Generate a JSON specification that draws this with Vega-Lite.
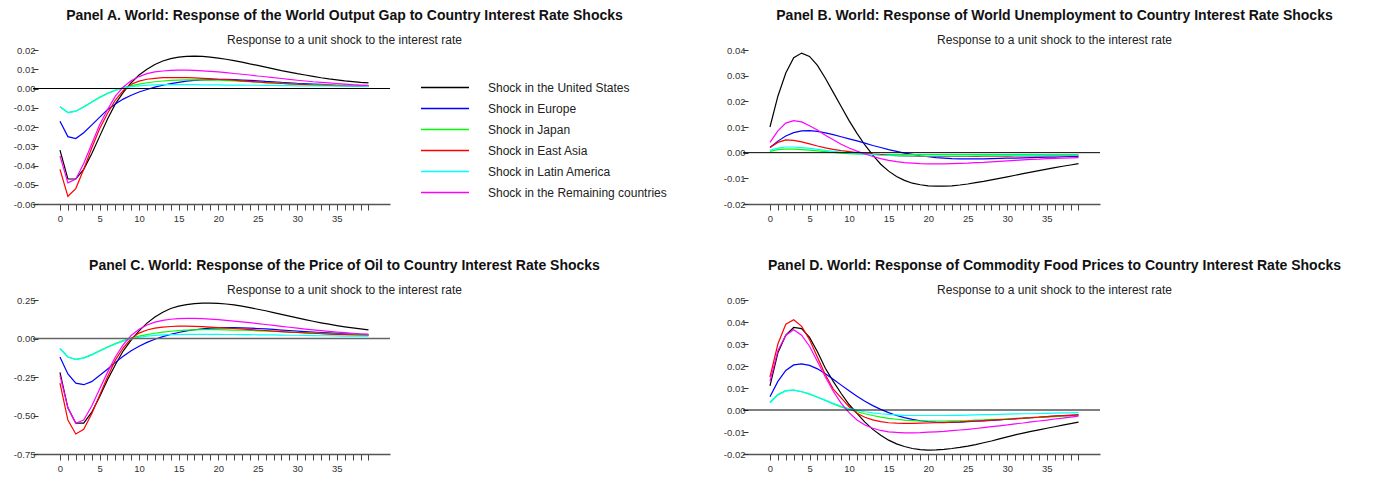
{
"$schema": "https://vega.github.io/schema/vega-lite/v6.json",
"padding": {"left": 13, "top": 9, "right": 5, "bottom": 5},
"background": "white",
"config": {
  "view": {"stroke": null},
  "font": "Liberation Sans",
  "title": {"font": "Liberation Sans", "fontSize": 14, "fontWeight": "bold", "color": "#111", "anchor": "middle", "dx": 133, "offset": -1, "subtitleFont": "Liberation Sans", "subtitleFontSize": 12, "subtitleColor": "#222", "subtitlePadding": 12},
  "axisX": {"domainColor": "#555", "domainWidth": 1.5, "tickColor": "#444", "tickSize": 6, "labelFontSize": 9.5, "labelColor": "#333", "labelFont": "Liberation Sans", "grid": false, "title": null, "labelPadding": 3.5, "labelOverlap": false,
    "labelExpr": "datum.value % 5 === 0 ? datum.label : ''"},
  "axisY": {"domain": false, "grid": false, "tickSize": -5, "tickColor": "#333", "labelFontSize": 9.5, "labelColor": "#333", "labelFont": "Liberation Sans", "labelPadding": 3, "offset": 0, "title": null, "labelOverlap": false, "labelExpr": "replace(datum.label, '\u2212', '-')"},
  "legend": {"orient": "none", "legendX": 387, "legendY": 27, "symbolType": "stroke", "symbolSize": 2304, "symbolStrokeWidth": 1.5, "clipHeight": 21, "rowPadding": 0, "labelFontSize": 12, "labelColor": "#222", "labelFont": "Liberation Sans", "labelOffset": 18, "labelLimit": 300}
},
"datasets": {
  "names": [
    {"key": "US", "label": "Shock in the United States"},
    {"key": "EU", "label": "Shock in Europe"},
    {"key": "JP", "label": "Shock in Japan"},
    {"key": "EA", "label": "Shock in East Asia"},
    {"key": "LA", "label": "Shock in Latin America"},
    {"key": "RC", "label": "Shock in the Remaining countries"}
  ],
  "A": [
    {"t":0,"US":-0.032,"EU":-0.017,"JP":-0.0095,"EA":-0.042,"LA":-0.0095,"RC":-0.035},
    {"t":1,"US":-0.047,"EU":-0.025,"JP":-0.0125,"EA":-0.056,"LA":-0.0125,"RC":-0.049},
    {"t":2,"US":-0.047,"EU":-0.026,"JP":-0.0118,"EA":-0.052,"LA":-0.0118,"RC":-0.047},
    {"t":3,"US":-0.042,"EU":-0.023,"JP":-0.0095,"EA":-0.042,"LA":-0.0097,"RC":-0.039},
    {"t":4,"US":-0.034,"EU":-0.019,"JP":-0.007,"EA":-0.031,"LA":-0.0072,"RC":-0.029},
    {"t":5,"US":-0.025,"EU":-0.015,"JP":-0.0045,"EA":-0.021,"LA":-0.0048,"RC":-0.019},
    {"t":6,"US":-0.016,"EU":-0.011,"JP":-0.0025,"EA":-0.013,"LA":-0.0027,"RC":-0.011},
    {"t":7,"US":-0.008,"EU":-0.008,"JP":-0.0008,"EA":-0.006,"LA":-0.001,"RC":-0.004},
    {"t":8,"US":-0.002,"EU":-0.0055,"JP":0.0005,"EA":-0.001,"LA":0.0003,"RC":0.0008},
    {"t":9,"US":0.003,"EU":-0.0035,"JP":0.0015,"EA":0.0022,"LA":0.001,"RC":0.004},
    {"t":10,"US":0.007,"EU":-0.0018,"JP":0.0023,"EA":0.0038,"LA":0.0014,"RC":0.0062},
    {"t":11,"US":0.010,"EU":-0.0005,"JP":0.003,"EA":0.0048,"LA":0.0017,"RC":0.0077},
    {"t":12,"US":0.0125,"EU":0.0007,"JP":0.0035,"EA":0.0053,"LA":0.0019,"RC":0.0086},
    {"t":13,"US":0.0143,"EU":0.0017,"JP":0.0039,"EA":0.0056,"LA":0.002,"RC":0.0091},
    {"t":14,"US":0.0155,"EU":0.0025,"JP":0.0042,"EA":0.0057,"LA":0.002,"RC":0.0094},
    {"t":15,"US":0.0163,"EU":0.0032,"JP":0.0044,"EA":0.0057,"LA":0.002,"RC":0.0095},
    {"t":16,"US":0.0167,"EU":0.0038,"JP":0.0045,"EA":0.0056,"LA":0.002,"RC":0.0095},
    {"t":17,"US":0.0168,"EU":0.0042,"JP":0.0045,"EA":0.0055,"LA":0.002,"RC":0.0094},
    {"t":18,"US":0.0167,"EU":0.0045,"JP":0.0045,"EA":0.0053,"LA":0.0019,"RC":0.0092},
    {"t":19,"US":0.0163,"EU":0.0046,"JP":0.0044,"EA":0.0051,"LA":0.0019,"RC":0.0089},
    {"t":20,"US":0.0158,"EU":0.0047,"JP":0.0043,"EA":0.0048,"LA":0.0019,"RC":0.0086},
    {"t":21,"US":0.0152,"EU":0.0047,"JP":0.0041,"EA":0.0046,"LA":0.0018,"RC":0.0082},
    {"t":22,"US":0.0145,"EU":0.0046,"JP":0.0039,"EA":0.0043,"LA":0.0018,"RC":0.0078},
    {"t":23,"US":0.0137,"EU":0.0044,"JP":0.0037,"EA":0.004,"LA":0.0018,"RC":0.0074},
    {"t":24,"US":0.0128,"EU":0.0042,"JP":0.0035,"EA":0.0037,"LA":0.0017,"RC":0.007},
    {"t":25,"US":0.012,"EU":0.004,"JP":0.0033,"EA":0.0034,"LA":0.0017,"RC":0.0065},
    {"t":26,"US":0.0111,"EU":0.0037,"JP":0.0031,"EA":0.0031,"LA":0.0016,"RC":0.0061},
    {"t":27,"US":0.0102,"EU":0.0035,"JP":0.0029,"EA":0.0029,"LA":0.0016,"RC":0.0056},
    {"t":28,"US":0.0093,"EU":0.0032,"JP":0.0027,"EA":0.0026,"LA":0.0015,"RC":0.0052},
    {"t":29,"US":0.0085,"EU":0.003,"JP":0.0025,"EA":0.0024,"LA":0.0015,"RC":0.0047},
    {"t":30,"US":0.0077,"EU":0.0027,"JP":0.0023,"EA":0.0022,"LA":0.0014,"RC":0.0043},
    {"t":31,"US":0.007,"EU":0.0025,"JP":0.0022,"EA":0.002,"LA":0.0014,"RC":0.0039},
    {"t":32,"US":0.0063,"EU":0.0023,"JP":0.002,"EA":0.0018,"LA":0.0014,"RC":0.0035},
    {"t":33,"US":0.0056,"EU":0.0021,"JP":0.0019,"EA":0.0017,"LA":0.0013,"RC":0.0032},
    {"t":34,"US":0.005,"EU":0.0019,"JP":0.0018,"EA":0.0016,"LA":0.0013,"RC":0.0029},
    {"t":35,"US":0.0045,"EU":0.0017,"JP":0.0017,"EA":0.0015,"LA":0.0013,"RC":0.0026},
    {"t":36,"US":0.004,"EU":0.0016,"JP":0.0016,"EA":0.0014,"LA":0.0012,"RC":0.0023},
    {"t":37,"US":0.0036,"EU":0.0014,"JP":0.0015,"EA":0.0013,"LA":0.0012,"RC":0.002},
    {"t":38,"US":0.0032,"EU":0.0013,"JP":0.0015,"EA":0.0012,"LA":0.0012,"RC":0.0018},
    {"t":39,"US":0.0029,"EU":0.0012,"JP":0.0014,"EA":0.0012,"LA":0.0011,"RC":0.0016}
  ],
  "B": [
    {"t":0,"US":0.010,"EU":0.002,"JP":0.0005,"EA":0.002,"LA":0.001,"RC":0.004},
    {"t":1,"US":0.022,"EU":0.0045,"JP":0.0012,"EA":0.004,"LA":0.0018,"RC":0.0085},
    {"t":2,"US":0.031,"EU":0.0065,"JP":0.0014,"EA":0.005,"LA":0.0022,"RC":0.0115},
    {"t":3,"US":0.037,"EU":0.0078,"JP":0.0014,"EA":0.0048,"LA":0.0022,"RC":0.0125},
    {"t":4,"US":0.0388,"EU":0.0085,"JP":0.0012,"EA":0.0042,"LA":0.002,"RC":0.012},
    {"t":5,"US":0.0375,"EU":0.0086,"JP":0.001,"EA":0.0034,"LA":0.0017,"RC":0.0105},
    {"t":6,"US":0.034,"EU":0.0083,"JP":0.0007,"EA":0.0026,"LA":0.0013,"RC":0.0088},
    {"t":7,"US":0.029,"EU":0.0077,"JP":0.0004,"EA":0.0019,"LA":0.0009,"RC":0.0068},
    {"t":8,"US":0.0235,"EU":0.007,"JP":0.0001,"EA":0.0013,"LA":0.0005,"RC":0.005},
    {"t":9,"US":0.018,"EU":0.0062,"JP":-0.0002,"EA":0.0008,"LA":0.0002,"RC":0.0033},
    {"t":10,"US":0.0125,"EU":0.0054,"JP":-0.0004,"EA":0.0004,"LA":-0.0001,"RC":0.0018},
    {"t":11,"US":0.0075,"EU":0.0046,"JP":-0.0005,"EA":0.0,"LA":-0.0004,"RC":0.0006},
    {"t":12,"US":0.003,"EU":0.0037,"JP":-0.0006,"EA":-0.0003,"LA":-0.0006,"RC":-0.0005},
    {"t":13,"US":-0.001,"EU":0.0028,"JP":-0.0007,"EA":-0.0006,"LA":-0.0008,"RC":-0.0015},
    {"t":14,"US":-0.0045,"EU":0.002,"JP":-0.0008,"EA":-0.0008,"LA":-0.001,"RC":-0.0023},
    {"t":15,"US":-0.0072,"EU":0.0012,"JP":-0.0008,"EA":-0.001,"LA":-0.0011,"RC":-0.003},
    {"t":16,"US":-0.0093,"EU":0.0005,"JP":-0.0008,"EA":-0.0012,"LA":-0.0012,"RC":-0.0035},
    {"t":17,"US":-0.0108,"EU":-0.0002,"JP":-0.0008,"EA":-0.0013,"LA":-0.0013,"RC":-0.0039},
    {"t":18,"US":-0.0119,"EU":-0.0007,"JP":-0.0008,"EA":-0.0014,"LA":-0.0013,"RC":-0.0041},
    {"t":19,"US":-0.0125,"EU":-0.0012,"JP":-0.0008,"EA":-0.0015,"LA":-0.0013,"RC":-0.0043},
    {"t":20,"US":-0.0129,"EU":-0.0016,"JP":-0.0008,"EA":-0.0015,"LA":-0.0013,"RC":-0.0044},
    {"t":21,"US":-0.013,"EU":-0.0019,"JP":-0.0008,"EA":-0.0015,"LA":-0.0013,"RC":-0.0044},
    {"t":22,"US":-0.013,"EU":-0.0021,"JP":-0.0008,"EA":-0.0015,"LA":-0.0013,"RC":-0.0044},
    {"t":23,"US":-0.0129,"EU":-0.0023,"JP":-0.0008,"EA":-0.0015,"LA":-0.0013,"RC":-0.0043},
    {"t":24,"US":-0.0126,"EU":-0.0024,"JP":-0.0008,"EA":-0.0015,"LA":-0.0013,"RC":-0.0042},
    {"t":25,"US":-0.0122,"EU":-0.0024,"JP":-0.0008,"EA":-0.0015,"LA":-0.0013,"RC":-0.0041},
    {"t":26,"US":-0.0117,"EU":-0.0024,"JP":-0.0008,"EA":-0.0015,"LA":-0.0012,"RC":-0.0039},
    {"t":27,"US":-0.0112,"EU":-0.0024,"JP":-0.0008,"EA":-0.0014,"LA":-0.0012,"RC":-0.0038},
    {"t":28,"US":-0.0106,"EU":-0.0023,"JP":-0.0008,"EA":-0.0014,"LA":-0.0012,"RC":-0.0036},
    {"t":29,"US":-0.01,"EU":-0.0022,"JP":-0.0008,"EA":-0.0014,"LA":-0.0012,"RC":-0.0034},
    {"t":30,"US":-0.0094,"EU":-0.0021,"JP":-0.0008,"EA":-0.0014,"LA":-0.0011,"RC":-0.0032},
    {"t":31,"US":-0.0088,"EU":-0.0021,"JP":-0.0008,"EA":-0.0013,"LA":-0.0011,"RC":-0.003},
    {"t":32,"US":-0.0082,"EU":-0.002,"JP":-0.0008,"EA":-0.0013,"LA":-0.0011,"RC":-0.0028},
    {"t":33,"US":-0.0076,"EU":-0.0019,"JP":-0.0008,"EA":-0.0013,"LA":-0.0011,"RC":-0.0026},
    {"t":34,"US":-0.007,"EU":-0.0018,"JP":-0.0008,"EA":-0.0013,"LA":-0.001,"RC":-0.0025},
    {"t":35,"US":-0.0064,"EU":-0.0017,"JP":-0.0008,"EA":-0.0012,"LA":-0.001,"RC":-0.0023},
    {"t":36,"US":-0.0058,"EU":-0.0017,"JP":-0.0008,"EA":-0.0012,"LA":-0.001,"RC":-0.0022},
    {"t":37,"US":-0.0053,"EU":-0.0016,"JP":-0.0008,"EA":-0.0012,"LA":-0.001,"RC":-0.0021},
    {"t":38,"US":-0.0048,"EU":-0.0015,"JP":-0.0008,"EA":-0.0012,"LA":-0.001,"RC":-0.002},
    {"t":39,"US":-0.0043,"EU":-0.0015,"JP":-0.0008,"EA":-0.0012,"LA":-0.001,"RC":-0.0019}
  ],
  "C": [
    {"t":0,"US":-0.22,"EU":-0.12,"JP":-0.065,"EA":-0.29,"LA":-0.065,"RC":-0.24},
    {"t":1,"US":-0.45,"EU":-0.23,"JP":-0.12,"EA":-0.53,"LA":-0.12,"RC":-0.45},
    {"t":2,"US":-0.55,"EU":-0.29,"JP":-0.135,"EA":-0.62,"LA":-0.137,"RC":-0.55},
    {"t":3,"US":-0.55,"EU":-0.30,"JP":-0.125,"EA":-0.59,"LA":-0.128,"RC":-0.53},
    {"t":4,"US":-0.48,"EU":-0.28,"JP":-0.105,"EA":-0.49,"LA":-0.108,"RC":-0.44},
    {"t":5,"US":-0.38,"EU":-0.24,"JP":-0.08,"EA":-0.37,"LA":-0.083,"RC":-0.33},
    {"t":6,"US":-0.27,"EU":-0.20,"JP":-0.055,"EA":-0.25,"LA":-0.058,"RC":-0.22},
    {"t":7,"US":-0.17,"EU":-0.155,"JP":-0.033,"EA":-0.14,"LA":-0.036,"RC":-0.12},
    {"t":8,"US":-0.08,"EU":-0.115,"JP":-0.014,"EA":-0.06,"LA":-0.017,"RC":-0.04},
    {"t":9,"US":-0.01,"EU":-0.08,"JP":0.002,"EA":0.0,"LA":-0.002,"RC":0.02},
    {"t":10,"US":0.05,"EU":-0.05,"JP":0.015,"EA":0.035,"LA":0.008,"RC":0.06},
    {"t":11,"US":0.10,"EU":-0.025,"JP":0.025,"EA":0.055,"LA":0.015,"RC":0.088},
    {"t":12,"US":0.14,"EU":-0.005,"JP":0.034,"EA":0.067,"LA":0.02,"RC":0.106},
    {"t":13,"US":0.17,"EU":0.012,"JP":0.041,"EA":0.074,"LA":0.023,"RC":0.118},
    {"t":14,"US":0.195,"EU":0.027,"JP":0.047,"EA":0.078,"LA":0.025,"RC":0.125},
    {"t":15,"US":0.21,"EU":0.039,"JP":0.051,"EA":0.08,"LA":0.026,"RC":0.129},
    {"t":16,"US":0.22,"EU":0.049,"JP":0.054,"EA":0.08,"LA":0.027,"RC":0.131},
    {"t":17,"US":0.227,"EU":0.057,"JP":0.056,"EA":0.079,"LA":0.027,"RC":0.131},
    {"t":18,"US":0.23,"EU":0.063,"JP":0.057,"EA":0.077,"LA":0.027,"RC":0.129},
    {"t":19,"US":0.23,"EU":0.067,"JP":0.057,"EA":0.074,"LA":0.027,"RC":0.126},
    {"t":20,"US":0.228,"EU":0.069,"JP":0.057,"EA":0.071,"LA":0.027,"RC":0.122},
    {"t":21,"US":0.224,"EU":0.07,"JP":0.056,"EA":0.068,"LA":0.026,"RC":0.118},
    {"t":22,"US":0.218,"EU":0.07,"JP":0.055,"EA":0.065,"LA":0.026,"RC":0.113},
    {"t":23,"US":0.21,"EU":0.069,"JP":0.054,"EA":0.062,"LA":0.025,"RC":0.108},
    {"t":24,"US":0.2,"EU":0.067,"JP":0.052,"EA":0.058,"LA":0.025,"RC":0.103},
    {"t":25,"US":0.19,"EU":0.065,"JP":0.05,"EA":0.055,"LA":0.024,"RC":0.097},
    {"t":26,"US":0.18,"EU":0.062,"JP":0.048,"EA":0.052,"LA":0.024,"RC":0.091},
    {"t":27,"US":0.168,"EU":0.059,"JP":0.046,"EA":0.048,"LA":0.023,"RC":0.085},
    {"t":28,"US":0.157,"EU":0.055,"JP":0.044,"EA":0.045,"LA":0.022,"RC":0.079},
    {"t":29,"US":0.145,"EU":0.052,"JP":0.042,"EA":0.042,"LA":0.021,"RC":0.073},
    {"t":30,"US":0.134,"EU":0.048,"JP":0.04,"EA":0.039,"LA":0.021,"RC":0.067},
    {"t":31,"US":0.123,"EU":0.045,"JP":0.037,"EA":0.036,"LA":0.02,"RC":0.061},
    {"t":32,"US":0.112,"EU":0.042,"JP":0.035,"EA":0.034,"LA":0.019,"RC":0.056},
    {"t":33,"US":0.102,"EU":0.039,"JP":0.033,"EA":0.031,"LA":0.018,"RC":0.051},
    {"t":34,"US":0.093,"EU":0.036,"JP":0.031,"EA":0.029,"LA":0.018,"RC":0.046},
    {"t":35,"US":0.084,"EU":0.033,"JP":0.029,"EA":0.027,"LA":0.017,"RC":0.042},
    {"t":36,"US":0.076,"EU":0.03,"JP":0.027,"EA":0.025,"LA":0.016,"RC":0.038},
    {"t":37,"US":0.069,"EU":0.028,"JP":0.025,"EA":0.023,"LA":0.016,"RC":0.034},
    {"t":38,"US":0.062,"EU":0.025,"JP":0.024,"EA":0.021,"LA":0.015,"RC":0.031},
    {"t":39,"US":0.056,"EU":0.023,"JP":0.022,"EA":0.02,"LA":0.015,"RC":0.028}
  ],
  "D": [
    {"t":0,"US":0.011,"EU":0.006,"JP":0.0035,"EA":0.015,"LA":0.0033,"RC":0.013},
    {"t":1,"US":0.026,"EU":0.013,"JP":0.007,"EA":0.030,"LA":0.0068,"RC":0.027},
    {"t":2,"US":0.034,"EU":0.018,"JP":0.0088,"EA":0.039,"LA":0.0087,"RC":0.034},
    {"t":3,"US":0.0375,"EU":0.0205,"JP":0.009,"EA":0.041,"LA":0.009,"RC":0.0365},
    {"t":4,"US":0.037,"EU":0.021,"JP":0.0083,"EA":0.038,"LA":0.0084,"RC":0.034},
    {"t":5,"US":0.033,"EU":0.0203,"JP":0.0072,"EA":0.032,"LA":0.0073,"RC":0.029},
    {"t":6,"US":0.0265,"EU":0.0187,"JP":0.0058,"EA":0.024,"LA":0.0059,"RC":0.022},
    {"t":7,"US":0.019,"EU":0.0165,"JP":0.0043,"EA":0.016,"LA":0.0045,"RC":0.015},
    {"t":8,"US":0.013,"EU":0.014,"JP":0.0028,"EA":0.0095,"LA":0.003,"RC":0.0085},
    {"t":9,"US":0.0075,"EU":0.0113,"JP":0.0014,"EA":0.0055,"LA":0.0017,"RC":0.003},
    {"t":10,"US":0.0025,"EU":0.0087,"JP":0.0003,"EA":0.0015,"LA":0.0006,"RC":-0.0012},
    {"t":11,"US":-0.0015,"EU":0.0062,"JP":-0.0008,"EA":-0.0015,"LA":-0.0002,"RC":-0.0045},
    {"t":12,"US":-0.0055,"EU":0.004,"JP":-0.0017,"EA":-0.0033,"LA":-0.0008,"RC":-0.0068},
    {"t":13,"US":-0.0088,"EU":0.002,"JP":-0.0025,"EA":-0.0045,"LA":-0.0013,"RC":-0.0083},
    {"t":14,"US":-0.0115,"EU":0.0003,"JP":-0.0032,"EA":-0.0053,"LA":-0.0017,"RC":-0.0093},
    {"t":15,"US":-0.0137,"EU":-0.0012,"JP":-0.0038,"EA":-0.0058,"LA":-0.002,"RC":-0.0099},
    {"t":16,"US":-0.0154,"EU":-0.0025,"JP":-0.0042,"EA":-0.006,"LA":-0.0022,"RC":-0.0102},
    {"t":17,"US":-0.0166,"EU":-0.0035,"JP":-0.0046,"EA":-0.0061,"LA":-0.0024,"RC":-0.0104},
    {"t":18,"US":-0.0175,"EU":-0.0043,"JP":-0.0048,"EA":-0.0061,"LA":-0.0025,"RC":-0.0104},
    {"t":19,"US":-0.018,"EU":-0.0049,"JP":-0.005,"EA":-0.006,"LA":-0.0025,"RC":-0.0103},
    {"t":20,"US":-0.0182,"EU":-0.0053,"JP":-0.005,"EA":-0.0059,"LA":-0.0025,"RC":-0.0101},
    {"t":21,"US":-0.0181,"EU":-0.0055,"JP":-0.005,"EA":-0.0058,"LA":-0.0025,"RC":-0.0099},
    {"t":22,"US":-0.0179,"EU":-0.0056,"JP":-0.005,"EA":-0.0057,"LA":-0.0025,"RC":-0.0097},
    {"t":23,"US":-0.0175,"EU":-0.0056,"JP":-0.0049,"EA":-0.0055,"LA":-0.0024,"RC":-0.0094},
    {"t":24,"US":-0.017,"EU":-0.0055,"JP":-0.0049,"EA":-0.0054,"LA":-0.0024,"RC":-0.0091},
    {"t":25,"US":-0.0164,"EU":-0.0053,"JP":-0.0048,"EA":-0.0052,"LA":-0.0023,"RC":-0.0088},
    {"t":26,"US":-0.0157,"EU":-0.0051,"JP":-0.0046,"EA":-0.005,"LA":-0.0022,"RC":-0.0084},
    {"t":27,"US":-0.0149,"EU":-0.0049,"JP":-0.0045,"EA":-0.0048,"LA":-0.0021,"RC":-0.008},
    {"t":28,"US":-0.0141,"EU":-0.0047,"JP":-0.0043,"EA":-0.0046,"LA":-0.0021,"RC":-0.0076},
    {"t":29,"US":-0.0131,"EU":-0.0045,"JP":-0.0042,"EA":-0.0044,"LA":-0.002,"RC":-0.0072},
    {"t":30,"US":-0.0122,"EU":-0.0042,"JP":-0.004,"EA":-0.0042,"LA":-0.0019,"RC":-0.0068},
    {"t":31,"US":-0.0113,"EU":-0.004,"JP":-0.0038,"EA":-0.0039,"LA":-0.0018,"RC":-0.0063},
    {"t":32,"US":-0.0105,"EU":-0.0038,"JP":-0.0037,"EA":-0.0037,"LA":-0.0017,"RC":-0.0059},
    {"t":33,"US":-0.0097,"EU":-0.0035,"JP":-0.0035,"EA":-0.0035,"LA":-0.0017,"RC":-0.0054},
    {"t":34,"US":-0.009,"EU":-0.0033,"JP":-0.0034,"EA":-0.0032,"LA":-0.0016,"RC":-0.005},
    {"t":35,"US":-0.0083,"EU":-0.003,"JP":-0.0032,"EA":-0.003,"LA":-0.0015,"RC":-0.0046},
    {"t":36,"US":-0.0076,"EU":-0.0028,"JP":-0.003,"EA":-0.0028,"LA":-0.0014,"RC":-0.0041},
    {"t":37,"US":-0.0069,"EU":-0.0026,"JP":-0.0028,"EA":-0.0026,"LA":-0.0013,"RC":-0.0037},
    {"t":38,"US":-0.0062,"EU":-0.0024,"JP":-0.0027,"EA":-0.0024,"LA":-0.0013,"RC":-0.0032},
    {"t":39,"US":-0.0055,"EU":-0.0022,"JP":-0.0025,"EA":-0.0022,"LA":-0.0012,"RC":-0.0028}
  ]
},
"columns": 2,
"bounds": "flush",
"spacing": {"row": 96, "column": 353},
"concat": [
  {
    "width": 357, "height": 154,
    "title": {"text": "Panel A. World: Response of the World Output Gap to Country Interest Rate Shocks", "subtitle": "Response to a unit shock to the interest rate"},
    "layer": [
      {"data": {"name": "A"},
       "transform": [{"fold": ["US","EU","JP","EA","LA","RC"], "as": ["key","value"]}, {"lookup": "key", "from": {"data": {"name": "names"}, "key": "key", "fields": ["label"]}}],
       "mark": {"type": "line", "strokeWidth": 1.2},
       "encoding": {
         "x": {"field": "t", "type": "quantitative", "scale": {"domain": [-3.41, 41.72], "nice": false, "zero": false}, "axis": {"values": [0,1,2,3,4,5,6,7,8,9,10,11,12,13,14,15,16,17,18,19,20,21,22,23,24,25,26,27,28,29,30,31,32,33,34,35,36,37,38,39]}},
         "y": {"field": "value", "type": "quantitative", "scale": {"domain": [-0.06, 0.02], "nice": false}, "axis": {"values": [-0.06,-0.05,-0.04,-0.03,-0.02,-0.01,0,0.01,0.02], "format": ".2f", "labelOverlap": false}},
         "color": {"field": "label", "type": "nominal", "scale": {"domain": ["Shock in the United States","Shock in Europe","Shock in Japan","Shock in East Asia","Shock in Latin America","Shock in the Remaining countries"], "range": ["#000000","#0000ff","#00ff00","#ff0000","#00ffff","#ff00ff"]}, "legend": {"title": null}}
       }
      },
      {"data": {"values": [{}]}, "mark": {"type": "rule", "color": "#000", "strokeWidth": 1}, "encoding": {"y": {"datum": 0, "type": "quantitative", "scale": {"domain": [-0.06, 0.02], "nice": false}, "axis": {"values": [-0.06,-0.05,-0.04,-0.03,-0.02,-0.01,0,0.01,0.02], "format": ".2f", "labelOverlap": false}}}}
    ]
  },
  {
    "width": 357, "height": 154,
    "title": {"text": "Panel B. World: Response of World Unemployment to Country Interest Rate Shocks", "subtitle": "Response to a unit shock to the interest rate"},
    "layer": [
      {"data": {"name": "B"},
       "transform": [{"fold": ["US","EU","JP","EA","LA","RC"], "as": ["key","value"]}, {"lookup": "key", "from": {"data": {"name": "names"}, "key": "key", "fields": ["label"]}}],
       "mark": {"type": "line", "strokeWidth": 1.2},
       "encoding": {
         "x": {"field": "t", "type": "quantitative", "scale": {"domain": [-3.41, 41.72], "nice": false, "zero": false}, "axis": {"values": [0,1,2,3,4,5,6,7,8,9,10,11,12,13,14,15,16,17,18,19,20,21,22,23,24,25,26,27,28,29,30,31,32,33,34,35,36,37,38,39]}},
         "y": {"field": "value", "type": "quantitative", "scale": {"domain": [-0.02, 0.04], "nice": false}, "axis": {"values": [-0.02,-0.01,0,0.01,0.02,0.03,0.04], "format": ".2f", "labelOverlap": false}},
         "color": {"field": "label", "type": "nominal", "scale": {"domain": ["Shock in the United States","Shock in Europe","Shock in Japan","Shock in East Asia","Shock in Latin America","Shock in the Remaining countries"], "range": ["#000000","#0000ff","#00ff00","#ff0000","#00ffff","#ff00ff"]}, "legend": {"title": null}}
       }
      },
      {"data": {"values": [{}]}, "mark": {"type": "rule", "color": "#000", "strokeWidth": 1}, "encoding": {"y": {"datum": 0, "type": "quantitative", "scale": {"domain": [-0.02, 0.04], "nice": false}, "axis": {"values": [-0.02,-0.01,0,0.01,0.02,0.03,0.04], "format": ".2f", "labelOverlap": false}}}}
    ]
  },
  {
    "width": 357, "height": 154,
    "title": {"text": "Panel C. World: Response of the Price of Oil to Country Interest Rate Shocks", "subtitle": "Response to a unit shock to the interest rate"},
    "layer": [
      {"data": {"name": "C"},
       "transform": [{"fold": ["US","EU","JP","EA","LA","RC"], "as": ["key","value"]}, {"lookup": "key", "from": {"data": {"name": "names"}, "key": "key", "fields": ["label"]}}],
       "mark": {"type": "line", "strokeWidth": 1.2},
       "encoding": {
         "x": {"field": "t", "type": "quantitative", "scale": {"domain": [-3.41, 41.72], "nice": false, "zero": false}, "axis": {"values": [0,1,2,3,4,5,6,7,8,9,10,11,12,13,14,15,16,17,18,19,20,21,22,23,24,25,26,27,28,29,30,31,32,33,34,35,36,37,38,39]}},
         "y": {"field": "value", "type": "quantitative", "scale": {"domain": [-0.75, 0.25], "nice": false}, "axis": {"values": [-0.75,-0.5,-0.25,0,0.25], "format": ".2f", "labelOverlap": false}},
         "color": {"field": "label", "type": "nominal", "scale": {"domain": ["Shock in the United States","Shock in Europe","Shock in Japan","Shock in East Asia","Shock in Latin America","Shock in the Remaining countries"], "range": ["#000000","#0000ff","#00ff00","#ff0000","#00ffff","#ff00ff"]}, "legend": {"title": null}}
       }
      },
      {"data": {"values": [{}]}, "mark": {"type": "rule", "color": "#666", "strokeWidth": 1.5}, "encoding": {"y": {"datum": 0, "type": "quantitative", "scale": {"domain": [-0.75, 0.25], "nice": false}, "axis": {"values": [-0.75,-0.5,-0.25,0,0.25], "format": ".2f", "labelOverlap": false}}}}
    ]
  },
  {
    "width": 357, "height": 154,
    "title": {"text": "Panel D. World: Response of Commodity Food Prices to Country Interest Rate Shocks", "subtitle": "Response to a unit shock to the interest rate"},
    "layer": [
      {"data": {"name": "D"},
       "transform": [{"fold": ["US","EU","JP","EA","LA","RC"], "as": ["key","value"]}, {"lookup": "key", "from": {"data": {"name": "names"}, "key": "key", "fields": ["label"]}}],
       "mark": {"type": "line", "strokeWidth": 1.2},
       "encoding": {
         "x": {"field": "t", "type": "quantitative", "scale": {"domain": [-3.41, 41.72], "nice": false, "zero": false}, "axis": {"values": [0,1,2,3,4,5,6,7,8,9,10,11,12,13,14,15,16,17,18,19,20,21,22,23,24,25,26,27,28,29,30,31,32,33,34,35,36,37,38,39]}},
         "y": {"field": "value", "type": "quantitative", "scale": {"domain": [-0.02, 0.05], "nice": false}, "axis": {"values": [-0.02,-0.01,0,0.01,0.02,0.03,0.04,0.05], "format": ".2f", "labelOverlap": false}},
         "color": {"field": "label", "type": "nominal", "scale": {"domain": ["Shock in the United States","Shock in Europe","Shock in Japan","Shock in East Asia","Shock in Latin America","Shock in the Remaining countries"], "range": ["#000000","#0000ff","#00ff00","#ff0000","#00ffff","#ff00ff"]}, "legend": {"title": null}}
       }
      },
      {"data": {"values": [{}]}, "mark": {"type": "rule", "color": "#000", "strokeWidth": 1}, "encoding": {"y": {"datum": 0, "type": "quantitative", "scale": {"domain": [-0.02, 0.05], "nice": false}, "axis": {"values": [-0.02,-0.01,0,0.01,0.02,0.03,0.04,0.05], "format": ".2f", "labelOverlap": false}}}}
    ]
  }
]
}
